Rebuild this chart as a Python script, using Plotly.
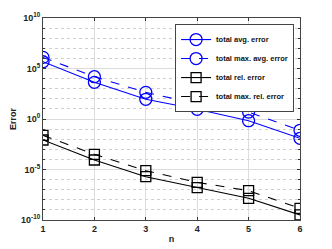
import plotly.graph_objects as go

n = [1, 2, 3, 4, 5, 6]
total_avg_error = [10**5.67, 10**3.63, 10**1.95, 10**0.96, 10**-0.17, 10**-1.91]
total_max_avg_error = [10**6.1, 10**4.19, 10**2.64, 10**1.49, 10**0.69, 10**-1.12]
total_rel_error = [10**-2.08, 10**-4.06, 10**-5.71, 10**-6.8, 10**-7.85, 10**-9.5]
total_max_rel_error = [10**-1.62, 10**-3.5, 10**-5.12, 10**-6.27, 10**-7.1, 10**-8.84]
y_tick_vals = [1e-10, 1e-5, 1, 1e5, 1e10]
y_tick_text = ["10<sup>-10</sup>", "10<sup>-5</sup>", "10<sup>0</sup>", "10<sup>5</sup>", "10<sup>10</sup>"]

series = [
    ("total avg. error", total_avg_error, "blue", "solid", "circle-open", 12),
    ("total max. avg. error", total_max_avg_error, "blue", "dash", "circle-open", 12),
    ("total rel. error", total_rel_error, "black", "solid", "square-open", 10),
    ("total max. rel. error", total_max_rel_error, "black", "dash", "square-open", 10),
]

fig = go.Figure()
for name, y, c, dash, sym, sz in series:
    fig.add_trace(go.Scatter(
        x=n, y=y, name=name, mode="lines+markers",
        line=dict(color=c, width=1.1, dash=dash),
        marker=dict(symbol=sym, size=sz, color=c, line=dict(width=1.3, color=c)),
    ))

font = dict(family="Liberation Sans, Arial, sans-serif", size=9, color="#222", weight="bold")

fig.update_layout(
    width=324, height=241,
    margin=dict(l=35, r=32, t=10, b=29),
    paper_bgcolor="white", plot_bgcolor="white",
    font=font,
    showlegend=True,
    legend=dict(x=0.977, y=0.97, xanchor="right", yanchor="top",
                bgcolor="white", bordercolor="#444", borderwidth=1,
                font=dict(size=7.5, family="Liberation Sans, Arial, sans-serif", color="#111", weight="bold"),
                tracegroupgap=0, itemwidth=30),
    xaxis=dict(
        range=[1, 6], tickvals=n, ticks="inside", ticklen=3, tickcolor="#333",
        showgrid=True, gridcolor="#dcdcdc", gridwidth=1,
        showline=True, linecolor="#444", linewidth=1, mirror="allticks",
        zeroline=False, automargin=False,
        title=dict(text="n", standoff=2, font=font),
    ),
    yaxis=dict(
        type="log", range=[-10, 10], tickvals=y_tick_vals, ticktext=y_tick_text,
        ticks="inside", ticklen=3, tickcolor="#333",
        showgrid=True, gridcolor="#dcdcdc", gridwidth=1,
        showline=True, linecolor="#444", linewidth=1, mirror="allticks",
        zeroline=False, automargin=False,
        minor=dict(dtick=1, showgrid=True, gridcolor="#cfcfcf", griddash="dot", ticks="inside", ticklen=2, tickcolor="#333"),
        title=dict(text="Error", standoff=4, font=font),
    ),
)

fig.write_html("out.html")
